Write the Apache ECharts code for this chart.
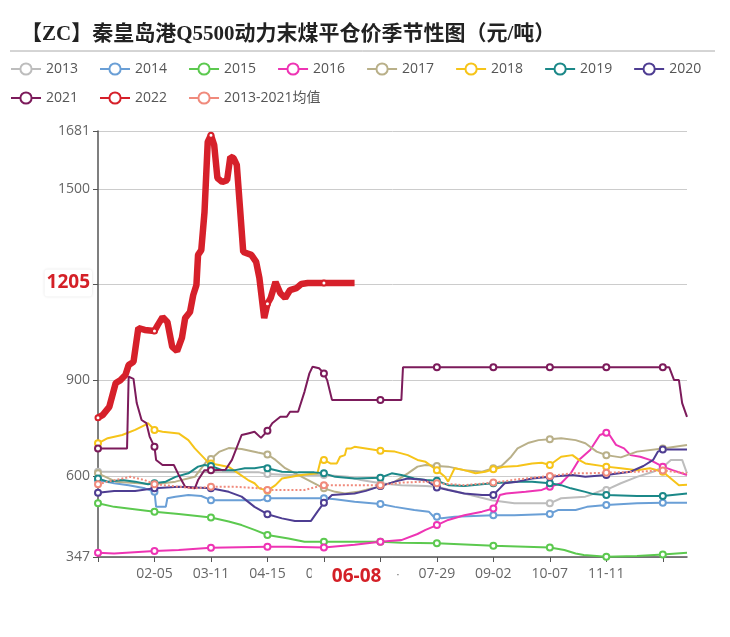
<!DOCTYPE html>
<html><head><meta charset="utf-8">
<script src="https://cdn.jsdelivr.net/npm/echarts@6/dist/echarts.min.js"></script>
<style>html,body{margin:0;padding:0;background:#fff}#c{width:730px;height:637px}</style>
</head><body><div id="c"></div>
<script>
// ---- categories: every day of a (leap) year, MM-DD ----
const monthDays = [31,29,31,30,31,30,31,31,30,31,30,31];
const categories = [];
monthDays.forEach((n, m) => { for (let d = 1; d <= n; d++) categories.push(String(m+1).padStart(2,'0') + '-' + String(d).padStart(2,'0')); });

const titleText = '【ZC】秦皇岛港Q5500动力末煤平仓价季节性图（元/吨）';
const yMin = 347, yMax = 1681;
const pointerDate = '06-08';
const pointerValue = 1205;

// ---- series values: [date, price] ----
const s2013 = [['01-01',614],['04-10',612],['04-15',607],['04-28',604],['05-20',604],['06-04',598],['06-12',588],['06-24',578],['07-07',572],['07-22',569],['07-29',567],['08-15',546],['09-01',525],['09-15',515],['10-07',515],['10-14',531],['10-29',536],['11-01',541],['11-09',557],['11-11',557],['11-20',578],['11-30',598],['12-10',614],['12-16',628],['12-21',651],['12-28',651],['12-31',609]];
const s2014 = [['01-01',588],['01-11',578],['01-20',572],['01-30',562],['02-05',551],['02-06',504],['02-12',504],['02-13',531],['02-18',536],['02-26',541],['03-05',538],['03-11',525],['04-11',525],['04-15',531],['05-20',531],['05-27',528],['06-08',520],['06-24',513],['07-03',504],['07-15',494],['07-24',489],['07-27',473],['07-29',473],['08-01',468],['08-09',473],['09-02',478],['09-15',478],['10-07',482],['10-12',494],['10-23',494],['10-30',504],['11-11',510],['11-30',515],['12-16',517],['12-31',517]];
const s2015 = [['01-01',515],['01-11',504],['02-05',489],['02-20',482],['03-11',471],['03-22',458],['03-30',447],['04-07',432],['04-15',416],['04-28',405],['05-08',395],['05-20',395],['06-24',395],['07-07',392],['07-29',390],['09-02',382],['10-07',377],['10-16',369],['10-23',358],['10-28',353],['11-11',348],['11-30',350],['12-16',355],['12-31',360]];
const s2016 = [['01-01',360],['01-11',358],['02-05',366],['02-20',369],['03-11',376],['04-15',379],['04-28',379],['05-20',377],['06-08',385],['06-24',395],['07-07',400],['07-17',419],['07-22',432],['07-29',447],['08-05',463],['08-15',478],['08-26',489],['09-02',499],['09-04',515],['09-06',541],['09-10',546],['09-22',551],['10-02',557],['10-07',567],['10-14',578],['10-20',609],['10-25',651],['11-01',682],['11-07',729],['11-11',736],['11-13',729],['11-17',698],['11-22',687],['11-26',666],['12-02',661],['12-08',651],['12-16',630],['12-22',619],['12-31',604]];
const s2017 = [['01-01',609],['01-12',583],['02-05',575],['02-18',583],['03-01',598],['03-09',651],['03-11',654],['03-16',676],['03-22',688],['03-30',685],['04-09',674],['04-15',668],['04-20',651],['04-26',625],['05-04',604],['05-12',583],['05-20',562],['05-27',551],['06-02',546],['06-10',551],['06-19',562],['06-24',569],['07-03',583],['07-11',609],['07-17',630],['07-22',635],['07-29',632],['08-05',630],['08-15',619],['08-26',614],['09-02',625],['09-07',632],['09-13',661],['09-17',687],['09-24',705],['09-30',713],['10-07',716],['10-14',719],['10-23',713],['10-29',703],['11-05',677],['11-11',666],['11-20',659],['11-30',677],['12-16',687],['12-31',698]];
const s2018 = [['01-01',703],['01-07',719],['01-16',729],['01-24',745],['01-30',760],['02-01',766],['02-05',745],['02-10',739],['02-20',734],['02-26',713],['03-01',687],['03-05',666],['03-09',645],['03-11',640],['03-16',635],['03-22',629],['03-28',609],['04-03',588],['04-07',578],['04-10',562],['04-15',555],['04-20',572],['04-24',593],['04-30',598],['05-06',604],['05-16',609],['05-18',651],['05-20',651],['05-24',640],['05-28',640],['05-30',661],['06-02',666],['06-03',687],['06-06',687],['06-08',692],['06-24',680],['07-03',677],['07-11',666],['07-17',651],['07-22',645],['07-29',619],['08-03',598],['08-05',583],['08-07',604],['08-09',625],['08-15',619],['08-22',609],['08-28',614],['09-02',622],['09-09',630],['09-17',632],['09-26',640],['10-02',642],['10-07',635],['10-14',661],['10-21',666],['10-25',651],['10-29',640],['11-11',630],['11-20',625],['11-30',619],['12-08',625],['12-16',614],['12-21',593],['12-26',572],['12-31',573]];
const s2019 = [['01-01',593],['01-07',583],['01-16',588],['01-24',583],['02-01',575],['02-05',578],['02-12',583],['02-18',598],['02-26',609],['03-03',630],['03-07',635],['03-11',632],['03-18',619],['03-26',619],['04-01',625],['04-07',625],['04-13',630],['04-15',625],['04-24',614],['05-04',612],['05-14',612],['05-20',609],['05-27',598],['06-08',593],['06-24',595],['07-01',609],['07-07',604],['07-15',593],['07-22',588],['07-29',586],['08-05',572],['08-15',569],['08-26',575],['09-02',578],['09-09',580],['09-17',583],['09-26',583],['10-07',578],['10-14',572],['10-20',562],['10-29',551],['11-03',544],['11-11',541],['11-30',538],['12-16',538],['12-31',546]];
const s2020 = [['01-01',548],['01-11',554],['01-24',554],['02-05',562],['02-20',567],['03-11',562],['03-22',551],['03-30',536],['04-07',504],['04-15',481],['04-24',468],['05-02',460],['05-12',460],['05-16',489],['05-20',517],['05-25',541],['06-08',546],['06-15',554],['06-24',569],['07-03',583],['07-11',593],['07-22',588],['07-29',565],['08-05',557],['08-15',546],['08-26',541],['09-02',541],['09-06',562],['09-09',578],['09-17',583],['09-26',593],['10-07',598],['10-21',604],['10-29',598],['11-11',604],['11-26',614],['12-04',632],['12-10',651],['12-13',677],['12-16',684],['12-31',684]];
const s2021 = [['01-01',687],['01-19',687],['01-20',912],['01-23',905],['01-25',829],['01-28',776],['01-31',766],['02-02',724],['02-05',692],['02-06',651],['02-10',635],['02-17',635],['02-20',604],['02-24',567],['03-01',562],['03-03',588],['03-07',619],['03-11',619],['03-20',620],['03-24',651],['03-30',729],['04-03',734],['04-07',739],['04-11',720],['04-15',742],['04-18',766],['04-23',786],['04-27',786],['04-29',802],['05-04',802],['05-08',865],['05-11',922],['05-13',943],['05-17',938],['05-20',922],['05-22',901],['05-25',839],['06-24',839],['07-07',839],['07-08',941],['07-29',941],['09-02',941],['10-07',941],['11-11',941],['12-16',941],['12-20',941],['12-23',901],['12-26',901],['12-28',829],['12-31',786]];
const s2022 = [['01-01',783],['01-04',792],['01-08',817],['01-12',892],['01-15',901],['01-18',917],['01-20',948],['01-23',958],['01-26',1064],['01-30',1058],['02-05',1055],['02-07',1073],['02-10',1098],['02-13',1083],['02-16',1005],['02-19',992],['02-22',1033],['02-24',1095],['02-27',1114],['02-29',1167],['03-02',1199],['03-03',1293],['03-05',1308],['03-07',1427],['03-09',1647],['03-11',1668],['03-13',1637],['03-15',1534],['03-18',1521],['03-21',1527],['03-23',1600],['03-25',1596],['03-27',1575],['03-29',1440],['03-31',1302],['04-05',1293],['04-08',1271],['04-10',1221],['04-13',1095],['04-15',1140],['04-17',1158],['04-20',1208],['04-23',1173],['04-26',1158],['04-29',1183],['05-03',1189],['05-06',1202],['05-10',1205],['05-20',1205],['06-08',1205]];
const sMean = [['01-01',575],['01-07',583],['01-21',598],['01-30',588],['02-05',575],['02-20',567],['03-01',562],['03-11',567],['03-26',567],['04-11',562],['04-15',557],['05-08',557],['05-20',572],['06-08',572],['06-24',572],['07-07',580],['07-22',583],['07-29',578],['08-15',572],['09-02',580],['09-17',590],['10-07',601],['10-21',609],['10-29',609],['11-11',611],['11-30',614],['12-16',618],['12-31',609]];

const seriesNames = ['2013','2014','2015','2016','2017','2018','2019','2020','2021','2022','2013-2021均值'];
const seriesData = [s2013,s2014,s2015,s2016,s2017,s2018,s2019,s2020,s2021,s2022,sMean];
const colors = ['#bdbdbd','#6a9fd6','#5cc94f','#ee34b4','#b9b089','#f6c419','#1b8888','#4e3d92','#7c1b5b','#d6202a','#f08a7c'];

const FONT = "'Open Sans','Noto Sans CJK SC',sans-serif";
const series = seriesNames.map((name, i) => {
  const is2022 = name === '2022';
  const isMean = i === 10;
  return {
    name, type: 'line', data: seriesData[i],
    symbol: 'emptyCircle', symbolSize: is2022 ? 5 : 6, showSymbol: true,
    z: is2022 ? 5 : 2,
    itemStyle: { color: colors[i], borderWidth: is2022 ? 1 : 1.5 },
    lineStyle: { color: colors[i], width: is2022 ? 6.5 : 2, type: isMean ? 'dotted' : 'solid' },
    emphasis: { disabled: true },
    animation: false
  };
});

const legendCommon = {
  left: 5, itemWidth: 30, itemHeight: 14, itemGap: 21,
  lineStyle: { type: 'solid' },
  textStyle: { fontSize: 14, color: '#555', fontFamily: FONT }, selectedMode: false
};

const chart = echarts.init(document.getElementById('c'), null, { renderer: 'canvas' });
chart.setOption({
  animation: false,
  color: colors,
  title: {
    text: titleText, left: 16, top: 19,
    textStyle: { fontSize: 21, fontWeight: 'bold', color: '#222', fontFamily: "'Liberation Serif','Noto Sans CJK SC',serif" }
  },
  graphic: [{ type: 'line', shape: { x1: 10, y1: 51, x2: 715, y2: 51 }, style: { stroke: '#aaa', lineWidth: 1 } }],
  legend: [
    Object.assign({}, legendCommon, { top: 57, data: seriesNames.slice(0, 8) }),
    Object.assign({}, legendCommon, { top: 86, data: seriesNames.slice(8) })
  ],
  grid: { left: 98, right: 43, top: 131, bottom: 80, containLabel: false },
  xAxis: {
    type: 'category', data: categories, boundaryGap: false,
    axisLine: { lineStyle: { color: '#555', width: 1.5 } },
    axisTick: { show: true, interval: 34, lineStyle: { color: '#555' } },
    axisLabel: {
      interval: 34, fontSize: 14, color: '#666', fontFamily: FONT, margin: 10,
      formatter: (v, idx) => (idx === 0 || idx === 350) ? '' : v
    },
    splitLine: { show: false },
    axisPointer: {
      show: true, status: 'show', value: pointerDate, type: 'line', triggerTooltip: false,
      lineStyle: { opacity: 0 },
      label: {
        show: true, color: '#d42027', fontWeight: 'bold', fontSize: 19, fontFamily: FONT,
        backgroundColor: '#fff', padding: [2, 16, 2, 20], margin: 8,
        formatter: p => (typeof p.value === 'number' ? categories[p.value] : p.value)
      }
    }
  },
  yAxis: {
    type: 'value', min: yMin, max: yMax,
    axisLine: { show: true, lineStyle: { color: '#555', width: 1.5 } },
    axisTick: { show: true, lineStyle: { color: '#555' } },
    axisLabel: { fontSize: 14, color: '#666', fontFamily: FONT, margin: 8, formatter: v => String(v) },
    splitLine: { lineStyle: { color: '#ccc', width: 1 } },
    axisPointer: {
      show: true, status: 'show', value: pointerValue, type: 'line', triggerTooltip: false,
      lineStyle: { opacity: 0 },
      label: {
        show: true, color: '#d42027', fontWeight: 'bold', fontSize: 19, fontFamily: FONT,
        backgroundColor: '#fff', padding: [4, 2, 4, 2], margin: 6,
        shadowBlur: 3, shadowColor: 'rgba(0,0,0,0.12)',
        formatter: p => String(Math.round(p.value))
      }
    }
  },
  series
});
</script>
</body></html>
